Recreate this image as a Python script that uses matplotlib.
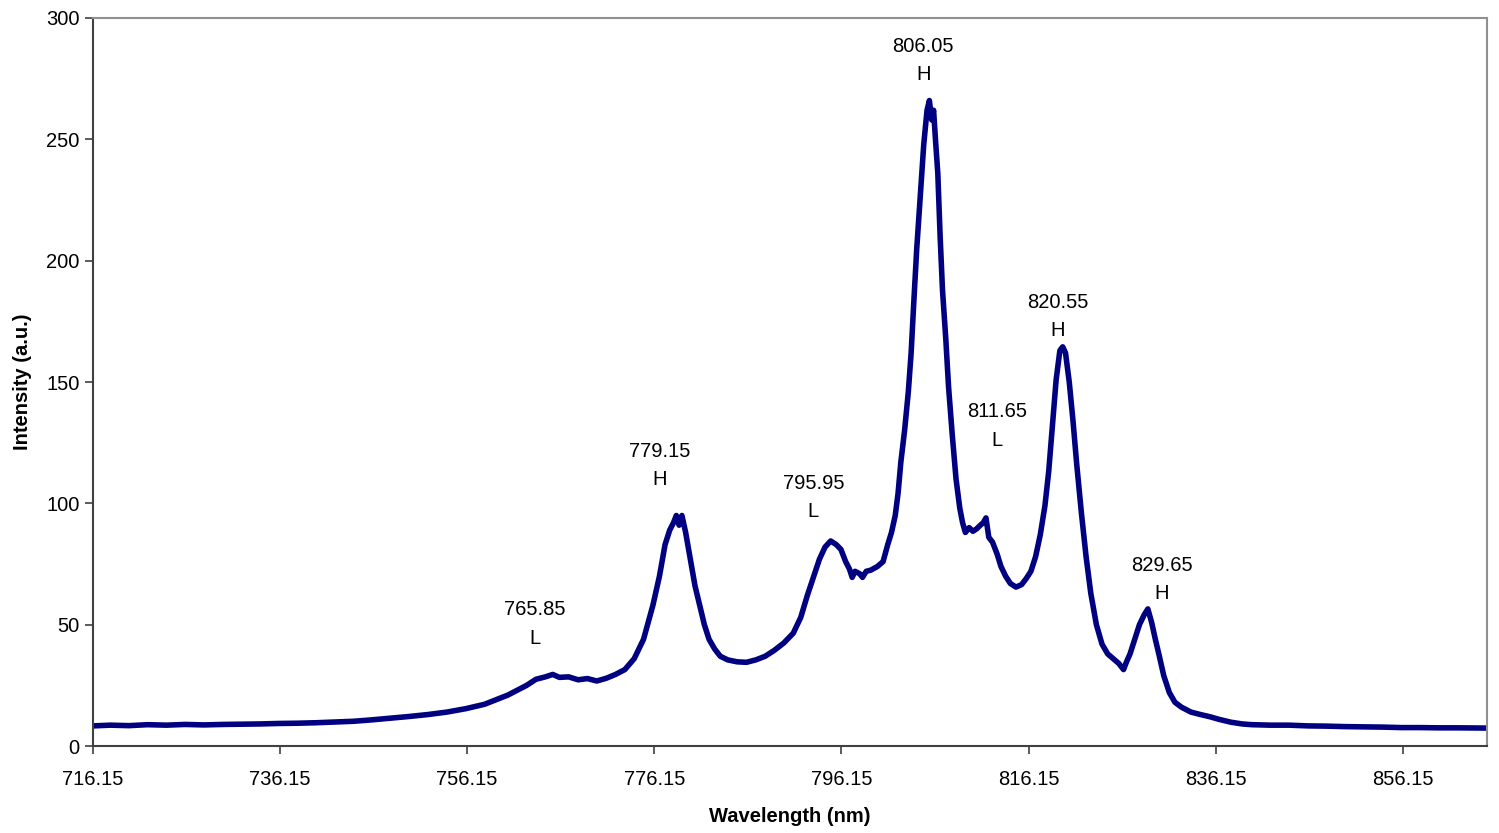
import matplotlib
matplotlib.use("Agg")
import matplotlib.pyplot as plt

plt.rcParams['font.family'] = ['Liberation Sans', 'DejaVu Sans']

# spectrum (wavelength nm, intensity a.u.)
wavelength = [
    716.15, 718, 720, 722, 724, 726, 728, 730, 732, 734, 736, 738, 740, 742, 744,
    746, 748, 750, 752, 754, 756, 758, 759.5, 760.5, 761.5, 762.5, 763.5, 764.5,
    765.3, 766, 767, 768, 769, 770, 771, 772, 773, 774, 775, 776, 776.7, 777.3,
    777.8, 778.2, 778.5, 778.8, 779.1, 779.5, 780, 780.5, 781, 781.5, 782, 782.6,
    783.2, 784, 785, 786, 787, 788, 789, 790, 791, 791.8, 792.5, 793.2, 793.8,
    794.4, 795, 795.6, 796.1, 796.6, 797, 797.3, 797.6, 798.1, 798.4, 798.8,
    799.3, 800, 800.6, 801.1, 801.5, 801.9, 802.2, 802.5, 802.9, 803.3, 803.6,
    803.9, 804.2, 804.6, 804.95, 805.3, 805.55, 805.8, 806.0, 806.2, 806.45,
    806.7, 806.95, 807.3, 807.6, 808, 808.4, 808.8, 809.1, 809.4, 809.8, 810.2,
    810.6, 811, 811.3, 811.6, 811.9, 812.3, 812.8, 813.2, 813.7, 814.2, 814.8,
    815.4, 815.9, 816.4, 816.9, 817.4, 817.9, 818.3, 818.7, 819.1, 819.5, 819.8,
    820.1, 820.5, 820.9, 821.3, 821.8, 822.3, 822.8, 823.4, 824, 824.6, 825.2,
    825.8, 826.3, 826.6, 827, 827.5, 828, 828.5, 828.9, 829.3, 829.7, 830.1,
    830.6, 831.2, 831.8, 832.5, 833.5, 834.5, 835.6, 836.5, 837.8, 839, 840,
    842, 844, 846, 848, 850, 852, 854, 856, 858, 860, 862, 865.15,
]
intensity = [
    8.3, 8.6, 8.4, 8.8, 8.6, 8.9, 8.7, 8.9, 9.0, 9.1, 9.3, 9.4, 9.6, 9.9, 10.2,
    10.8, 11.5, 12.2, 13.0, 14.0, 15.4, 17.2, 19.5, 21, 23, 25, 27.5, 28.5,
    29.5, 28.3, 28.5, 27.3, 27.8, 26.8, 27.9, 29.5, 31.5, 36, 44, 58, 70, 83,
    89, 92, 95, 91, 95, 88, 77, 66, 58, 50, 44, 40,
    37, 35.5, 34.7, 34.5, 35.5, 37, 39.5, 42.5, 46.5, 53, 62, 70, 77,
    82, 84.5, 83, 81, 76, 73, 69.5, 72, 71, 69.5, 72,
    72.5, 74, 76, 83, 88, 95, 104, 117, 130, 146, 162,
    184, 205, 228, 248, 262, 266, 258, 262, 250, 236,
    210, 188, 168, 148, 128, 110, 98, 92, 88, 90, 88.5,
    89.5, 91, 92, 94, 86, 84, 79, 74, 70, 67, 65.5,
    66.5, 69, 72, 78, 87, 99, 113, 132, 151, 163, 164.5,
    162, 150, 134, 116, 96, 78, 63, 50, 42, 38, 36,
    34, 31.5, 34.5, 38, 44, 50, 54, 56.5, 51, 44, 37.5,
    29, 22, 18, 16, 14, 13, 12, 11, 9.8, 9.1, 8.8,
    8.6, 8.6, 8.3, 8.2, 8.0, 7.9, 7.8, 7.6, 7.6, 7.5, 7.5, 7.4,
]

# peak annotations: label text, type, and where the text block sits
peak_labels = ['765.85', '779.15', '795.95', '806.05', '811.65', '820.55', '829.65']
peak_types = ['L', 'H', 'L', 'H', 'L', 'H', 'H']
label_x = [763.4, 776.7, 793.15, 804.9, 812.8, 819.3, 830.4]
label_y = [50.3, 115.6, 102.4, 282.5, 131.9, 177.0, 68.6]

xticks = [716.15, 736.15, 756.15, 776.15, 796.15, 816.15, 836.15, 856.15]

fig = plt.figure(figsize=(14.99, 8.33), dpi=100)
ax = fig.add_axes([0.062, 0.1044, 0.930, 0.874])

ax.plot(wavelength, intensity, color='#000080', lw=4.0,
        solid_joinstyle='round', solid_capstyle='round')

for lab, t, x, y in zip(peak_labels, peak_types, label_x, label_y):
    ax.text(x, y, lab + '\n' + t, ha='center', va='center',
            fontsize=14.5, linespacing=1.62)

ax.set_xlim(716.15, 865.15)
ax.set_ylim(0, 300)
ax.set_xticks(xticks)
ax.set_xticklabels([f'{v:.2f}' for v in xticks])
ax.set_yticks(range(0, 301, 50))
ax.tick_params(direction='out', length=6, width=1.2, labelsize=14.5,
               colors='#404040', labelcolor='black')
ax.tick_params(axis='x', pad=11)

for side in ['left', 'bottom']:
    ax.spines[side].set_color('#404040')
    ax.spines[side].set_linewidth(1.5)
for side in ['top', 'right']:
    ax.spines[side].set_color('#909090')
    ax.spines[side].set_linewidth(1.5)

ax.set_xlabel('Wavelength (nm)', fontsize=14.5, fontweight='bold', labelpad=13)
ax.set_ylabel('Intensity (a.u.)', fontsize=14.5, fontweight='bold', labelpad=10)

fig.savefig('out.png', dpi=100)
